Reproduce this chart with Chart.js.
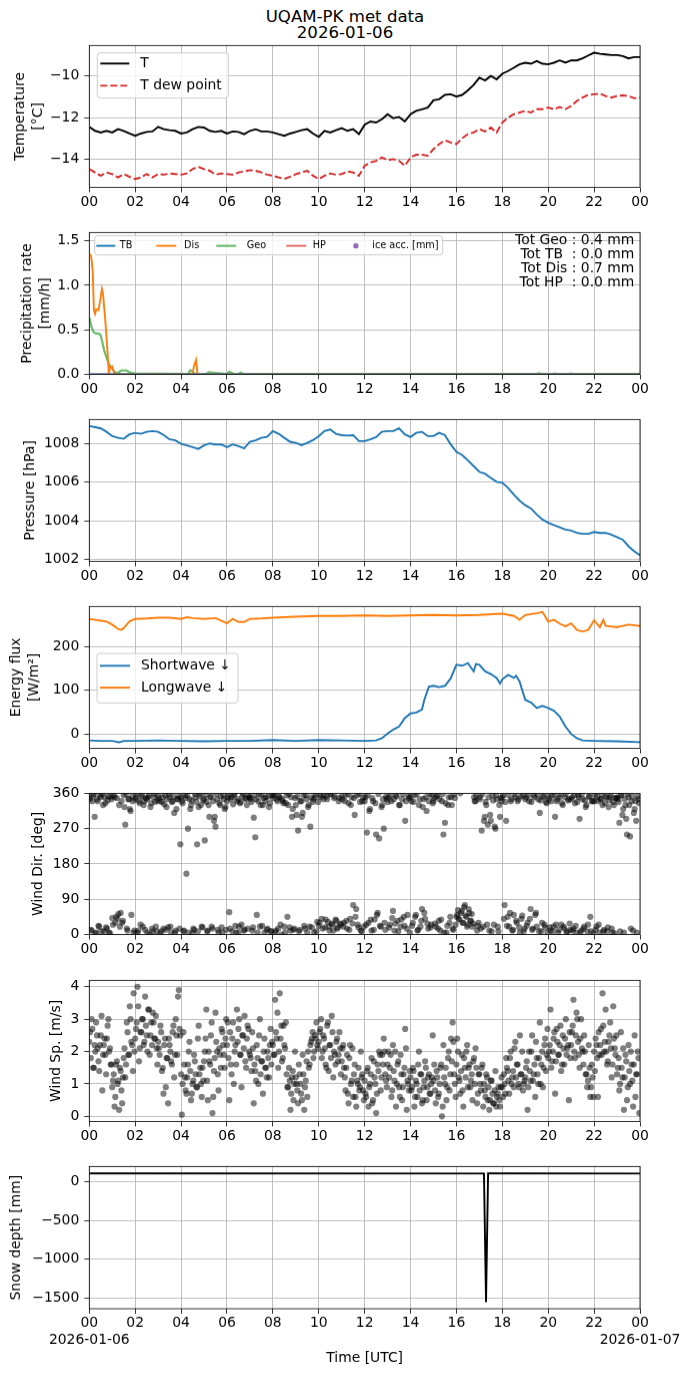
<!DOCTYPE html>
<html>
<head>
<meta charset="utf-8">
<script src="https://cdn.jsdelivr.net/npm/chart.js@4.4.1/dist/chart.umd.min.js"></script>
<style>
  body { margin: 0; width: 690px; height: 1377px; background: #fff; position: relative; overflow: hidden; font-family: "DejaVu Sans"; }
  .panel { position: absolute; left: 0; width: 690px; }
  #title { position: absolute; left: 0; top: 8.5px; width: 690px; text-align: center; font-size: 16.6px; line-height: 16.8px; color: #000; }
</style>
</head>
<body>
<div id="title">UQAM-PK met data<br>2026-01-06</div>
<script>
// ---- data (hours UTC) ----
// temperature, every 15 min from 00 to 24
const tempT = [-12.45,-12.64,-12.72,-12.64,-12.72,-12.56,-12.64,-12.77,-12.88,-12.77,-12.69,-12.67,
  -12.45,-12.56,-12.61,-12.64,-12.77,-12.72,-12.56,-12.45,-12.48,-12.64,-12.69,-12.64,
  -12.77,-12.67,-12.69,-12.80,-12.64,-12.56,-12.67,-12.67,-12.72,-12.80,-12.88,-12.77,
  -12.69,-12.61,-12.56,-12.77,-12.93,-12.64,-12.72,-12.61,-12.51,-12.64,-12.56,-12.80,
  -12.35,-12.19,-12.24,-12.08,-11.84,-12.03,-11.97,-12.19,-11.84,-11.68,-11.60,-11.52,
  -11.17,-11.12,-10.91,-10.88,-10.99,-10.91,-10.69,-10.43,-10.08,-10.21,-10.00,-10.16,
  -9.89,-9.76,-9.60,-9.44,-9.36,-9.41,-9.28,-9.41,-9.44,-9.36,-9.25,-9.36,
  -9.25,-9.25,-9.15,-9.01,-8.88,-8.93,-8.96,-8.99,-8.99,-9.04,-9.15,-9.09,-9.09];
const tempDew = [-14.48,-14.64,-14.80,-14.64,-14.72,-14.88,-14.72,-14.85,-14.96,-14.88,-14.72,-14.88,
  -14.72,-14.75,-14.69,-14.72,-14.75,-14.69,-14.48,-14.37,-14.48,-14.56,-14.75,-14.69,
  -14.72,-14.75,-14.64,-14.59,-14.53,-14.56,-14.64,-14.75,-14.80,-14.88,-14.96,-14.85,
  -14.72,-14.64,-14.56,-14.80,-14.96,-14.80,-14.69,-14.75,-14.72,-14.59,-14.64,-14.80,
  -14.32,-14.16,-14.08,-13.92,-14.05,-14.00,-14.08,-14.32,-13.92,-13.79,-13.79,-13.84,
  -13.52,-13.28,-13.09,-13.20,-13.28,-12.99,-12.80,-12.72,-12.56,-12.67,-12.48,-12.72,
  -12.24,-12.00,-11.84,-11.76,-11.68,-11.76,-11.60,-11.60,-11.52,-11.60,-11.49,-11.60,
  -11.44,-11.20,-11.04,-10.91,-10.88,-10.85,-10.96,-11.04,-10.96,-10.93,-10.96,-11.07,-11.04];

// precipitation rate [mm/h]
const disHours = [0,0.08,0.15,0.2,0.25,0.3,0.4,0.5,0.55,0.6,0.7,0.8,0.85,0.9,1.0,1.1,4.5,4.55,4.65,4.72,24];
const disRate  = [1.35,1.33,1.16,0.72,0.68,0.73,0.72,0.87,0.96,0.90,0.60,0.23,0,0.08,0.09,0,0,0.08,0.16,0,0];
const geoHours = [0,0.1,0.2,0.3,0.4,0.5,0.55,0.65,0.75,0.85,1.0,1.1,1.2,1.4,1.6,1.8,2.0,4.3,4.4,4.5,
  4.6,5.1,5.2,5.4,6.0,6.1,6.3,6.5,6.6,6.7,19.5,19.6,19.7,20.2,20.3,20.4,20.9,21.0,21.1,24];
const geoRate  = [0.64,0.53,0.47,0.46,0.46,0.44,0.38,0.27,0.19,0.12,0.06,0.03,0.01,0.045,0.045,0.02,0.01,0.005,0.045,0.03,
  0.005,0.005,0.025,0.02,0.005,0.03,0.005,0.005,0.02,0.005,0.005,0.012,0.005,0.005,0.01,0.005,0.005,0.01,0.005,0.005];
const flatHours = [0, 24];
const tbRate = [0, 0];
const hpRate = [0, 0];
const precipNotes = ['Tot Geo : 0.4 mm', 'Tot TB  : 0.0 mm', 'Tot Dis : 0.7 mm', 'Tot HP  : 0.0 mm'];

// pressure [hPa], every 15 min
const pressure = [1008.90,1008.84,1008.78,1008.60,1008.38,1008.29,1008.24,1008.47,1008.55,1008.50,1008.60,1008.64,
  1008.60,1008.43,1008.21,1008.16,1007.98,1007.90,1007.81,1007.72,1007.90,1008.00,1007.95,1007.95,
  1007.81,1007.95,1007.86,1007.74,1008.09,1008.16,1008.29,1008.34,1008.64,1008.50,1008.29,1008.09,
  1008.03,1007.91,1008.03,1008.17,1008.38,1008.64,1008.72,1008.50,1008.43,1008.41,1008.43,1008.12,
  1008.12,1008.21,1008.33,1008.60,1008.64,1008.64,1008.78,1008.47,1008.33,1008.55,1008.60,1008.38,
  1008.38,1008.55,1008.43,1007.95,1007.57,1007.40,1007.12,1006.83,1006.53,1006.43,1006.22,1006.02,
  1005.97,1005.71,1005.36,1005.05,1004.81,1004.64,1004.33,1004.07,1003.90,1003.78,1003.67,1003.55,
  1003.50,1003.38,1003.33,1003.33,1003.43,1003.38,1003.38,1003.29,1003.16,1003.03,1002.69,1002.43,1002.22];

// radiation [W/m2]
const lwHours = [0,0.25,0.5,0.75,1,1.25,1.4,1.5,1.75,2,2.5,3,3.5,4,4.25,4.5,5,5.5,6,6.25,6.5,6.75,7,7.5,8,8.5,9,10,11,12,
  13,14,15,16,17,18,18.5,18.75,19,19.5,19.75,20,20.25,20.5,20.75,21,21.25,21.5,21.75,22,22.25,22.4,22.5,23,23.5,24];
const longwave = [263,261,259,257,250,240,238,242,257,263,264,266,266,263,267,265,263,265,253,263,256,256,263,264,266,267,268,270,270,271,
  270,271,272,271,272,275,270,261,272,276,279,257,261,252,246,253,238,234,238,260,244,261,247,244,250,247];
const swHours = [0,0.5,1,1.3,1.5,2,3,4,5,6,7,8,9,10,11,12,12.5,12.75,13,13.25,13.5,13.75,14,14.25,14.5,14.6,14.8,15,15.25,15.5,
  15.75,16,16.25,16.5,16.75,16.85,17,17.25,17.5,17.75,17.9,18,18.25,18.5,18.6,18.75,19,19.25,19.5,19.75,
  20,20.25,20.5,20.75,21,21.25,21.5,22,23,24];
const shortwave = [-15,-16,-16,-19,-16,-16,-15,-16,-17,-16,-16,-14,-16,-14,-15,-16,-15,-10,1,10,17,36,47,49,56,78,108,110,107,110,
  127,158,156,162,143,160,158,143,137,128,115,125,135,128,133,120,78,72,59,64,
  59,53,40,17,0,-10,-15,-16,-17,-19];

// wind, two interleaved sample sets of 15 per hour each
const windDir = [
  345,10,355,300,5,340,20,350,358,8,335,15,352,3,345,
  25,350,45,40,330,55,30,355,280,15,345,320,50,340,10,
  350,5,340,25,355,330,12,345,350,0,335,8,358,20,342,
  348,3,338,15,355,325,18,350,5,340,310,10,345,352,230,
  340,8,355,155,270,345,330,3,12,350,230,325,358,20,342,
  240,338,10,300,352,15,290,275,345,5,330,18,355,320,12,
  350,57,345,8,355,22,340,5,335,25,358,12,345,15,350,
  345,10,298,248,50,340,20,355,330,5,350,15,325,8,355,
  355,5,345,15,350,0,340,20,335,45,358,10,300,12,348,
  305,265,12,340,310,22,355,5,330,275,18,345,350,8,338,
  30,350,15,355,38,345,20,358,28,10,352,35,18,348,25,
  345,30,355,15,335,40,350,75,305,65,25,358,10,340,20,
  350,260,30,320,10,340,38,255,55,245,20,330,270,12,345,
  350,25,340,60,10,355,35,330,20,345,45,290,15,352,5,
  340,30,355,50,10,330,20,65,345,40,315,15,358,25,335,
  348,20,355,35,10,340,255,285,5,330,30,350,15,358,25,
  50,40,360,60,30,75,45,25,55,35,20,350,340,10,30,
  350,265,20,300,330,280,10,290,355,25,270,345,8,300,340,
  355,75,290,45,20,340,10,50,350,30,345,5,40,355,15,
  350,30,340,65,12,355,50,20,345,310,8,352,25,338,5,
  345,10,355,20,300,340,5,350,25,330,15,358,8,345,12,
  350,15,335,5,355,295,10,345,20,325,8,352,45,340,3,
  355,20,340,5,345,330,12,352,8,325,350,15,338,3,348,
  345,285,355,305,5,330,255,350,250,340,10,320,290,352,335];
const windDirB = [
  350,12,340,358,3,345,22,355,8,330,350,18,342,5,352,
  42,355,30,348,52,20,340,35,325,358,10,345,315,352,5,
  345,358,10,335,352,20,340,348,5,355,325,15,350,338,8,
  355,340,8,350,332,12,345,358,20,338,352,5,320,345,15,
  350,335,10,348,355,5,320,342,15,358,338,8,352,330,18,
  345,355,8,330,350,20,340,300,358,12,335,352,5,345,325,
  340,355,15,350,332,358,5,345,20,338,352,10,348,330,355,
  350,338,18,355,345,5,358,330,22,348,340,12,352,335,8,
  348,358,10,340,352,25,345,335,5,355,330,18,350,320,15,
  330,352,8,340,300,355,15,345,325,20,350,338,5,358,32,
  22,355,40,345,18,352,32,10,358,25,348,38,15,340,28,
  352,20,340,35,358,12,330,28,348,45,355,18,338,8,350,
  340,25,355,315,38,348,12,335,50,358,22,325,345,30,352,
  338,18,355,42,345,28,352,8,330,38,358,22,340,50,348,
  352,22,338,45,358,12,345,35,325,55,350,28,340,18,355,
  340,28,352,15,345,38,358,5,335,22,350,45,330,12,348,
  45,62,38,55,30,70,48,20,65,35,52,28,340,355,22,
  345,15,358,290,338,25,350,305,8,342,275,355,20,330,348,
  350,40,338,22,355,55,345,12,358,35,340,18,352,48,8,
  345,22,355,40,338,15,350,55,358,8,342,30,352,18,335,
  352,18,340,8,355,25,345,12,358,335,20,350,5,342,28,
  345,10,355,22,338,350,5,358,15,342,330,25,352,8,340,
  340,12,352,25,345,358,8,335,350,18,342,355,5,330,348,
  350,338,8,355,320,345,295,358,330,15,352,310,340,5,345];
const windSpeed = [
  2.6,3.0,1.5,2.2,2.9,2.1,1.4,2.5,0.8,2.2,1.9,2.4,3.0,2.1,1.6,
  1.1,0.3,1.6,1.0,0.2,1.4,0.4,1.8,1.2,2.9,1.9,3.4,2.3,1.4,2.0,
  2.7,4.0,1.7,2.6,3.0,2.2,3.7,2.5,3.3,1.9,2.9,3.2,2.4,3.1,1.6,
  2.1,2.8,1.4,0.7,2.4,1.8,0.4,2.2,1.7,2.6,1.2,3.0,1.9,3.9,2.5,
  0.05,2.6,1.2,0.7,1.6,2.3,0.5,1.0,1.9,1.3,0.9,2.8,1.5,0.6,1.1,
  2.0,3.3,0.5,1.7,2.5,0.1,1.4,3.2,2.0,0.8,1.9,2.7,2.2,1.5,3.0,
  2.9,0.5,1.6,2.4,1.0,2.2,3.3,2.7,1.9,0.9,2.5,3.1,1.5,2.8,2.0,
  1.8,2.6,0.4,1.4,2.2,1.0,3.0,1.7,0.7,2.4,1.5,2.0,1.2,2.7,2.3,
  1.9,3.6,2.4,1.5,3.8,2.8,1.8,2.2,2.9,0.9,1.5,0.2,1.2,0.5,2.0,
  1.0,0.4,1.3,0.7,1.9,0.2,1.1,0.6,1.5,2.2,2.4,1.8,2.5,2.9,2.1,
  2.6,3.0,2.0,2.4,1.6,2.8,1.4,2.2,3.1,1.2,1.9,2.3,1.7,2.6,1.3,
  2.1,1.5,0.8,1.9,0.4,2.2,1.1,0.6,1.6,0.3,1.0,0.8,2.0,1.3,0.5,
  0.7,1.4,0.3,1.0,1.8,0.5,1.2,0.1,1.6,2.0,0.8,1.9,2.4,1.3,0.9,
  2.0,1.5,0.6,2.2,1.1,0.3,1.6,0.9,1.9,0.5,1.3,2.7,0.2,1.0,1.4,
  0.8,1.5,0.3,1.1,0.6,2.0,1.3,0.4,0.9,1.7,0.5,1.2,0.7,1.0,2.5,
  1.6,0.4,1.2,0.7,1.5,0.0,2.2,1.0,0.5,1.8,0.8,2.4,2.9,1.3,0.6,
  2.4,1.2,0.7,1.9,0.3,1.5,2.0,0.9,1.6,1.1,0.5,1.8,2.1,0.4,1.3,
  1.0,1.5,0.3,0.8,1.3,0.5,0.2,1.1,0.7,0.4,1.4,0.6,0.9,0.3,1.2,
  0.6,1.0,1.8,1.4,0.7,2.0,1.2,0.9,2.3,1.6,1.0,2.5,1.3,0.8,1.1,
  1.5,0.2,2.0,1.1,2.5,1.3,0.6,1.8,1.0,2.9,1.6,0.9,2.2,1.4,2.7,
  2.0,3.3,1.7,2.4,0.7,2.7,1.9,2.2,1.4,2.5,1.6,3.0,2.1,0.5,1.8,
  2.6,3.6,1.8,3.2,2.3,1.5,3.0,2.0,2.5,1.3,0.9,2.2,0.6,1.6,0.6,
  1.4,2.2,0.6,1.9,2.7,3.8,2.0,3.3,1.6,2.3,2.9,1.2,3.4,2.1,2.5,
  1.5,0.8,2.6,1.2,0.2,1.9,0.5,2.2,1.0,1.6,0.3,2.5,1.3,2.0,0.1];
const windSpeedB = [
  2.3,1.8,2.7,1.5,2.0,2.5,1.7,2.2,3.1,1.9,2.4,1.3,2.8,2.0,1.6,
  0.9,1.3,0.6,1.7,1.1,1.5,0.8,1.2,2.1,1.6,2.6,1.9,3.0,2.2,3.8,
  2.4,2.9,3.4,2.1,2.6,3.0,2.3,2.8,2.0,3.3,2.5,2.2,2.9,2.4,2.1,
  2.3,1.9,2.6,1.5,2.2,0.9,1.8,2.4,2.0,1.6,2.8,1.9,2.5,3.7,2.7,
  1.3,1.0,1.6,0.8,1.2,2.0,1.4,0.7,1.1,1.7,0.9,2.4,1.3,1.0,1.5,
  1.7,2.4,1.1,2.0,1.6,2.9,0.6,1.8,2.3,1.3,2.1,1.5,2.6,1.9,2.4,
  2.2,1.8,2.6,1.3,2.9,2.0,1.6,2.3,3.0,1.9,2.5,2.1,1.7,2.4,2.7,
  1.9,1.4,2.1,1.6,1.1,1.8,2.5,1.3,1.7,2.0,1.5,1.2,1.8,2.2,1.6,
  2.2,1.9,2.6,3.2,2.0,2.4,1.7,2.8,2.1,1.3,0.9,1.1,0.7,1.4,1.0,
  1.2,0.8,1.6,1.0,0.5,1.3,0.9,1.7,2.0,1.6,2.3,2.6,2.0,2.4,2.2,
  2.3,2.7,1.8,2.5,2.1,1.5,2.9,2.2,1.8,2.6,2.0,1.6,2.4,1.9,2.1,
  1.7,2.2,1.2,1.5,0.7,1.8,1.0,2.1,1.3,0.6,1.1,1.5,0.9,1.2,0.8,
  1.1,0.6,1.5,0.9,1.3,0.4,1.7,1.0,0.7,1.4,1.9,1.2,1.6,2.0,1.1,
  1.6,1.2,1.9,0.8,1.4,2.0,1.0,1.7,0.6,1.3,0.9,1.5,2.1,1.1,0.8,
  1.2,0.9,1.4,0.6,1.0,1.6,0.8,1.3,0.5,1.1,1.5,0.9,1.3,0.7,1.2,
  1.1,0.8,1.4,0.6,1.0,1.6,0.3,1.2,1.5,0.9,2.0,1.3,1.7,2.3,1.0,
  1.6,2.0,1.1,1.4,0.8,1.8,1.2,2.2,1.5,0.9,1.3,1.7,1.0,1.5,0.7,
  1.3,0.8,1.6,1.0,0.6,1.2,0.9,0.5,1.1,0.4,0.8,0.3,0.7,0.5,0.9,
  0.9,1.3,0.7,1.5,1.1,1.8,1.0,1.4,2.1,1.2,1.6,0.9,1.3,2.0,1.0,
  1.2,1.7,0.9,1.4,2.0,1.1,1.6,2.3,1.3,1.8,1.0,2.0,1.5,2.4,1.9,
  1.8,2.2,1.5,2.0,2.6,1.7,2.3,1.9,2.8,1.6,2.1,2.4,1.9,2.2,2.6,
  2.2,2.8,2.0,2.5,3.0,1.9,2.4,2.1,1.6,2.0,1.3,1.1,1.5,0.9,1.2,
  2.0,2.4,1.8,2.6,2.2,1.9,2.8,2.3,2.0,1.7,2.5,2.1,1.6,2.4,1.9,
  1.3,1.8,1.0,1.5,2.1,1.2,1.7,0.9,1.4,2.0,1.1,1.6,0.6,1.3,1.8];

// snow depth [mm]
const snowHours = [0, 17.2, 17.29, 17.38, 24];
const snowDepth = [112, 110, -1555, 112, 110];

// axis ticks
const hourTicks = [0,2,4,6,8,10,12,14,16,18,20,22,24];
const dateLabels = ['2026-01-06', '2026-01-07'];
const dateHours = [0, 24];
const tempTicks = [-14, -12, -10];
const precipTicks = [0, 0.5, 1.0, 1.5];
const pressTicks = [1002, 1004, 1006, 1008];
const fluxTicks = [0, 100, 200];
const dirTicks = [0, 90, 180, 270, 360];
const speedTicks = [0, 1, 2, 3, 4];
const snowTicks = [-1500, -1000, -500, 0];

// ---- helpers ----
Chart.defaults.font.family = 'DejaVu Sans';
Chart.defaults.font.size = 13.9;
Chart.defaults.color = '#000';
Chart.defaults.animation = false;

const PAD_TOP = 12;
const quarterHours = tempT.map((_, i) => i * 0.25);
const windHours = windSpeed.map((_, i) => (i + 0.5) / 15);
const windHoursB = windSpeedB.map((_, i) => i / 15);
const pts = (xs, ys) => xs.map((x, i) => ({ x: x, y: ys[i] }));
const minus = v => String(v).replace('-', '\u2212');
const DOT = 'rgba(0,0,0,0.5)';

function mount(top, plotH, xH) {
  const div = document.createElement('div');
  div.className = 'panel';
  div.style.top = (top - PAD_TOP) + 'px';
  div.style.height = (PAD_TOP + plotH + xH) + 'px';
  const c = document.createElement('canvas');
  div.appendChild(c);
  document.body.appendChild(div);
  return c;
}

function xAxis(xH, last) {
  return {
    type: 'linear', min: 0, max: 24,
    afterBuildTicks: s => { s.ticks = hourTicks.map(v => ({ value: v })); },
    afterFit: s => { s.height = xH; },
    grid: { color: '#b0b0b0', lineWidth: 0.8, tickColor: '#000', tickLength: 5, tickWidth: 0.8 },
    border: { display: false },
    ticks: {
      autoSkip: false, maxRotation: 0, padding: 1.5,
      font: { size: 13.9, lineHeight: 1.2 },
      callback: v => String(v % 24).padStart(2, '0')
    },
    title: last
      ? { display: true, text: 'Time [UTC]', font: { size: 13.9, lineHeight: 1.2 }, padding: { top: 0, bottom: 10.7 } }
      : { display: false }
  };
}

function yAxis(min, max, ticks, title, titleX, fmt) {
  const lh = 1.3;
  return {
    min: min, max: max,
    afterBuildTicks: s => { s.ticks = ticks.map(v => ({ value: v })); },
    afterFit: s => { s.width = 89.3; },
    grid: { color: '#b0b0b0', lineWidth: 0.8, tickColor: '#000', tickLength: 5, tickWidth: 0.8 },
    border: { display: false },
    ticks: { padding: 5, font: { size: 13.9 }, callback: fmt || minus },
    title: {
      display: true, text: title, font: { size: 13.9, lineHeight: lh },
      padding: { top: titleX - 13.9 * lh / 2, bottom: 0 }
    }
  };
}

function drawLegend(ctx, a, lg, chart) {
  const b = lg.box;
  ctx.fillStyle = 'rgba(255,255,255,0.8)';
  ctx.strokeStyle = '#cccccc';
  ctx.lineWidth = 1;
  ctx.beginPath();
  ctx.roundRect(a.left + b[0], a.top + b[1], b[2], b[3], 3);
  ctx.fill();
  ctx.stroke();
  ctx.font = lg.size + 'px "DejaVu Sans"';
  ctx.textBaseline = 'middle';
  ctx.textAlign = 'left';
  lg.items.forEach(it => {
    const ds = chart.data.datasets[it.ds];
    const y = a.top + it.y;
    if (it.dot) {
      ctx.fillStyle = ds.backgroundColor;
      ctx.beginPath();
      ctx.arc(a.left + it.x1, y, 2.6, 0, 2 * Math.PI);
      ctx.fill();
    } else {
      ctx.strokeStyle = ds.borderColor;
      ctx.lineWidth = ds.borderWidth;
      ctx.setLineDash(ds.borderDash || []);
      ctx.beginPath();
      ctx.moveTo(a.left + it.x1, y);
      ctx.lineTo(a.left + it.x2, y);
      ctx.stroke();
      ctx.setLineDash([]);
    }
    ctx.fillStyle = '#000';
    ctx.fillText(ds.label, a.left + it.tx, y);
  });
}

// frame, legends, notes and date labels drawn over the plot
const deco = {
  id: 'deco',
  afterDraw(chart, args, opts) {
    const ctx = chart.ctx, a = chart.chartArea;
    ctx.save();
    if (opts.legend) drawLegend(ctx, a, opts.legend, chart);
    ctx.font = '13.9px "DejaVu Sans"';
    ctx.fillStyle = '#000';
    ctx.textBaseline = 'middle';
    if (opts.notes) {
      ctx.textAlign = 'right';
      opts.notes.lines.forEach((t, i) => ctx.fillText(t, a.right + opts.notes.dx, a.top + opts.notes.ys[i]));
    }
    if (opts.dates) {
      ctx.textAlign = 'center';
      dateLabels.forEach((t, i) => ctx.fillText(t, chart.scales.x.getPixelForValue(dateHours[i]), a.bottom + opts.dates.dy));
    }
    ctx.strokeStyle = '#000';
    ctx.lineWidth = 0.8;
    ctx.strokeRect(a.left, a.top, a.right - a.left, a.bottom - a.top);
    ctx.restore();
  }
};

function makeChart(top, plotH, xH, last, type, datasets, y, decoOpts) {
  return new Chart(mount(top, plotH, xH), {
    type: type,
    data: { datasets: datasets },
    options: {
      responsive: true, maintainAspectRatio: false, events: [],
      layout: { padding: { top: PAD_TOP, right: 50, left: 0, bottom: 0 } },
      elements: { point: { radius: 0 }, line: { tension: 0 } },
      scales: { x: xAxis(xH, last), y: y },
      plugins: { legend: { display: false }, tooltip: { enabled: false }, deco: decoOpts || {} }
    },
    plugins: [deco]
  });
}

const LW = 1.9;

// 1. temperature
makeChart(44.3, 142.5, 30, false, 'line', [
  { label: 'T', data: pts(quarterHours, tempT), borderColor: '#000000', borderWidth: LW },
  { label: 'T dew point', data: pts(quarterHours, tempDew), borderColor: '#d62728', borderWidth: LW, borderDash: [7, 3] }
], yAxis(-15.36, -8.53, tempTicks, ['Temperature', '[\u00b0C]'], 20), {
  legend: { size: 13.9, box: [8, 7.4, 131, 45], items: [
    { ds: 0, x1: 11, x2: 40, tx: 51, y: 18 },
    { ds: 1, x1: 11, x2: 40, tx: 51, y: 40 }
  ] }
});

// 2. precipitation
makeChart(231.4, 142.5, 30, false, 'line', [
  { label: 'TB', data: pts(flatHours, tbRate), borderColor: '#1f77b4', borderWidth: LW },
  { label: 'Dis', data: pts(disHours, disRate), borderColor: '#ff7f0e', borderWidth: LW },
  { label: 'Geo', data: pts(geoHours, geoRate), borderColor: 'rgba(44,160,44,0.7)', borderWidth: 2.2 },
  { label: 'HP', data: pts(flatHours, hpRate), borderColor: 'rgba(214,39,40,0.7)', borderWidth: LW },
  { label: 'ice acc. [mm]', data: [], showLine: false, backgroundColor: '#9467bd', borderColor: '#9467bd' }
], yAxis(0, 1.595, precipTicks, ['Precipitation rate', '[mm/h]'], 27.3, v => v.toFixed(1)), {
  legend: { size: 9.7, box: [5.4, 3.3, 348, 19], items: [
    { ds: 0, x1: 7, x2: 26, tx: 30.5, y: 13.3 },
    { ds: 1, x1: 67, x2: 87, tx: 94.8, y: 13.3 },
    { ds: 2, x1: 127, x2: 147, tx: 157.4, y: 13.3 },
    { ds: 3, x1: 197, x2: 217, tx: 223.5, y: 13.3 },
    { ds: 4, dot: true, x1: 266.6, tx: 283, y: 13.3 }
  ] },
  notes: { lines: precipNotes, dx: -5.6, ys: [7.6, 21.6, 35.6, 49.6] }
});

// 3. pressure
makeChart(418.2, 142.5, 30, false, 'line', [
  { label: 'P', data: pts(quarterHours, pressure), borderColor: '#1f77b4', borderWidth: LW }
], yAxis(1001.91, 1009.24, pressTicks, 'Pressure [hPa]', 30));

// 4. radiation
makeChart(605, 142.5, 30, false, 'line', [
  { label: 'Shortwave \u2193', data: pts(swHours, shortwave), borderColor: '#1f77b4', borderWidth: LW },
  { label: 'Longwave \u2193', data: pts(lwHours, longwave), borderColor: '#ff7f0e', borderWidth: LW }
], yAxis(-33, 291.5, fluxTicks, ['Energy flux', '[W/m\u00b2]'], 16.7), {
  legend: { size: 13.9, box: [7.7, 46.7, 141, 49.3], items: [
    { ds: 0, x1: 10.7, x2: 40.7, tx: 51.7, y: 59 },
    { ds: 1, x1: 10.7, x2: 40.7, tx: 51.7, y: 80.7 }
  ] }
});

// 5. wind direction
makeChart(791.8, 142.5, 30, false, 'scatter', [
  { label: 'dir', data: pts(windHours, windDir), pointRadius: 3.1, pointBorderWidth: 0, pointBackgroundColor: DOT },
  { label: 'dir b', data: pts(windHoursB, windDirB), pointRadius: 3.1, pointBorderWidth: 0, pointBackgroundColor: DOT }
], yAxis(0, 360, dirTicks, 'Wind Dir. [deg]', 38.8));

// 6. wind speed
makeChart(978.5, 142.5, 30, false, 'scatter', [
  { label: 'speed', data: pts(windHours, windSpeed), pointRadius: 3.1, pointBorderWidth: 0, pointBackgroundColor: DOT },
  { label: 'speed b', data: pts(windHoursB, windSpeedB), pointRadius: 3.1, pointBorderWidth: 0, pointBackgroundColor: DOT }
], yAxis(-0.16, 4.2, speedTicks, 'Wind Sp. [m/s]', 56.4));

// 7. snow depth
makeChart(1165.2, 143, 1377 - 1165.2 - 143, true, 'line', [
  { label: 'snow', data: pts(snowHours, snowDepth), borderColor: '#000000', borderWidth: LW }
], yAxis(-1641, 202, snowTicks, 'Snow depth [mm]', 16.7), { dates: { dy: 31 } });
</script>
</body>
</html>
